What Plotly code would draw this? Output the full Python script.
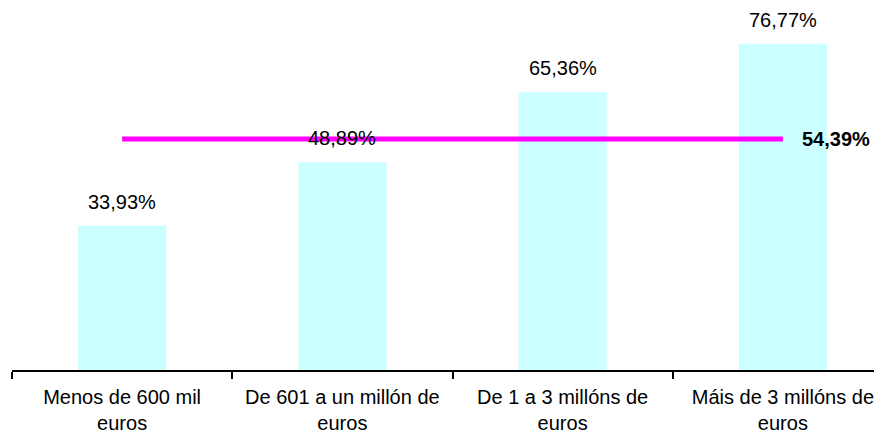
import plotly.graph_objects as go

categories = ["Menos de 600 mil<br>euros", "De 601 a un millón de<br>euros",
              "De 1 a 3 millóns de<br>euros", "Máis de 3 millóns de<br>euros"]
values = [33.93, 48.89, 65.36, 76.77]
value_labels = ["33,93%", "48,89%", "65,36%", "76,77%"]
average = 54.39
average_label = "54,39%"

FONT = "Liberation Sans, Arial, sans-serif"

fig = go.Figure()
fig.add_trace(go.Bar(
    x=categories, y=values, width=0.4,
    marker=dict(color="#CCFFFF", line=dict(width=0)),
    hoverinfo="skip", showlegend=False,
))
fig.add_trace(go.Scatter(
    x=categories, y=[average] * len(categories), mode="lines",
    line=dict(color="#FF00FF", width=5),
    hoverinfo="skip", showlegend=False,
))

annotations = []
for c, v, t in zip(categories, values, value_labels):
    annotations.append(dict(x=c, y=v, text=t, showarrow=False, xanchor="center",
                            yanchor="bottom", yshift=11,
                            font=dict(family=FONT, size=20, color="#000000")))
annotations.append(dict(x=categories[-1], y=average, text="<b>" + average_label + "</b>",
                        showarrow=False, xanchor="left", yanchor="middle", xshift=17,
                        font=dict(family=FONT, size=20, color="#000000")))

# page body has an 8px default margin; the figure is sized to fill the rest
fig.update_layout(
    width=874, height=426,
    margin=dict(l=4, r=0, t=0, b=64, autoexpand=False),
    paper_bgcolor="white", plot_bgcolor="white",
    bargap=0.6,
    annotations=annotations,
    font=dict(family=FONT, size=20, color="#000000"),
    xaxis=dict(
        type="category", range=[-0.5, 3.45], automargin=False,
        showline=True, linecolor="#000000", linewidth=1.5,
        ticks="outside", tickson="boundaries", ticklen=7, tickwidth=1.5, tickcolor="#000000",
        ticklabelstandoff=8,
        showgrid=False, zeroline=False,
        tickfont=dict(family=FONT, size=20, color="#000000"),
    ),
    yaxis=dict(range=[0, 85.2], visible=False, showgrid=False, zeroline=False, automargin=False),
)

fig.write_html("out.html")
